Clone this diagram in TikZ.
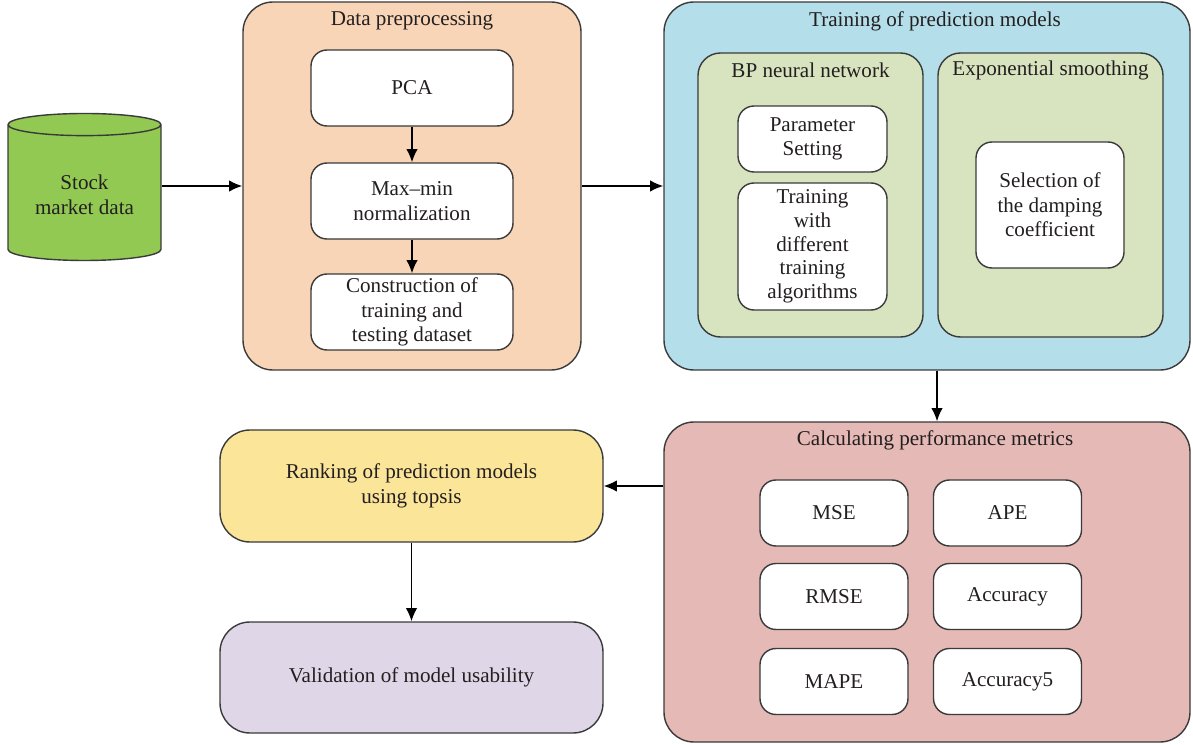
\documentclass[tikz,border=0pt]{standalone}
\usepackage{fontspec}
\setmainfont{Liberation Serif}
\usetikzlibrary{arrows.meta}
\usetikzlibrary{positioning}
\usetikzlibrary{shapes.geometric}
\definecolor{LineGray}{HTML}{3A3A3A}
\definecolor{TextGray}{HTML}{231F20}
\definecolor{StockGreen}{HTML}{92C953}
\definecolor{PrepOrange}{HTML}{F9D5B7}
\definecolor{TrainBlue}{HTML}{B4DEEA}
\definecolor{ModelGreen}{HTML}{D8E4BF}
\definecolor{MetricRed}{HTML}{E5B9B5}
\definecolor{RankYellow}{HTML}{FAE599}
\definecolor{ValidLilac}{HTML}{DFD7E7}
\tikzset{
  group/.style={draw=LineGray, line width=0.8pt, rounded corners=0.6cm},
  subgroup/.style={draw=LineGray, line width=0.8pt, rounded corners=0.45cm,
    fill=ModelGreen, minimum width=4.5cm, minimum height=5.68cm},
  stepbox/.style={draw=LineGray, line width=0.8pt, rounded corners=0.32cm,
    fill=white, align=center, text=TextGray, inner sep=0pt},
  metric/.style={stepbox, minimum width=2.96cm, minimum height=1.32cm},
  title/.style={text=TextGray},
  arr/.style={-{Latex[length=7.5pt,width=6.5pt]}, line width=0.8pt, draw=black}
}

\begin{document}
\begin{tikzpicture}[font=\fontsize{12}{14}\selectfont]
  \useasboundingbox (0,0) rectangle (23.86,-14.9);

  % input
  \node[cylinder, shape border rotate=90, aspect=0.2, draw=LineGray,
    line width=0.8pt, fill=StockGreen, text=TextGray, align=center,
    minimum width=3.06cm, minimum height=2.94cm] (stock) at (1.69,-3.9)
    {Stock\\market data};

  % data preprocessing
  \node[group, fill=PrepOrange, minimum width=6.76cm, minimum height=7.36cm]
    (prep) at (8.24,-3.72) {};
  \node[title] (preptitle) at (8.24,-0.42) {Data preprocessing};
  \node[stepbox, minimum width=4.04cm, minimum height=1.52cm] (pca)
    at (8.24,-1.76) {PCA};
  \node[stepbox, minimum width=4.04cm, minimum height=1.52cm] (norm)
    at (8.24,-4.02) {Max--min\\normalization};
  \node[stepbox, minimum width=4.04cm, minimum height=1.52cm] (split)
    at (8.24,-6.24) {Construction of\\training and\\testing dataset};

  % training of prediction models
  \node[group, fill=TrainBlue, minimum width=10.52cm, minimum height=7.36cm]
    (train) at (18.54,-3.72) {};
  \node[title] (traintitle) at (18.7,-0.42) {Training of prediction models};
  \node[subgroup] (bp) at (16.21,-3.9) {};
  \node[title] (bptitle) at (16.21,-1.4) {BP neural network};
  \node[subgroup] (expo) at (21.01,-3.9) {};
  \node[title] (expotitle) at (21.01,-1.4) {Exponential smoothing};
  \node[stepbox, minimum width=2.98cm, minimum height=1.32cm] (param)
    at (16.25,-2.78) {Parameter\\Setting};
  \node[stepbox, minimum width=2.98cm, minimum height=2.54cm,
    font=\fontsize{12}{13.5}\selectfont] (algo)
    at (16.25,-4.93) {Training\\with\\different\\training\\algorithms};
  \node[stepbox, minimum width=2.96cm, minimum height=2.52cm] (damp)
    at (21.0,-4.1) {Selection of\\the damping\\coefficient};

  % performance metrics
  \node[group, fill=MetricRed, minimum width=10.52cm, minimum height=6.4cm]
    (calc) at (18.54,-11.64) {};
  \node[title] (calctitle) at (18.7,-8.8) {Calculating performance metrics};
  \node[metric] (mse) at (16.68,-10.26) {MSE};
  \node[metric] (ape) at (20.15,-10.26) {APE};
  \node[metric] (rmse) at (16.68,-11.93) {RMSE};
  \node[metric] (acc) at (20.15,-11.93) {Accuracy};
  \node[metric] (mape) at (16.68,-13.63) {MAPE};
  \node[metric] (acc5) at (20.15,-13.63) {Accuracy5};

  % ranking and validation
  \node[stepbox, fill=RankYellow, rounded corners=0.6cm, minimum width=7.66cm,
    minimum height=2.24cm] (rank) at (8.23,-9.72)
    {Ranking of prediction models\\using topsis};
  \node[stepbox, fill=ValidLilac, rounded corners=0.6cm, minimum width=7.66cm,
    minimum height=2.22cm] (valid) at (8.23,-13.55)
    {Validation of model usability};

  % connectors
  \draw[arr] (stock.east |- prep.west) -- (prep.west);
  \draw[arr] (prep.east) -- (train.west);
  \draw[arr] (pca) -- (norm);
  \draw[arr] (norm) -- (split);
  \draw[arr] ([xshift=0.2cm]train.south) -- ([xshift=0.2cm]calc.north);
  \draw[arr] (rank.east -| calc.west) -- (rank.east);
  \draw[arr] (rank) -- (valid);
\end{tikzpicture}
\end{document}
